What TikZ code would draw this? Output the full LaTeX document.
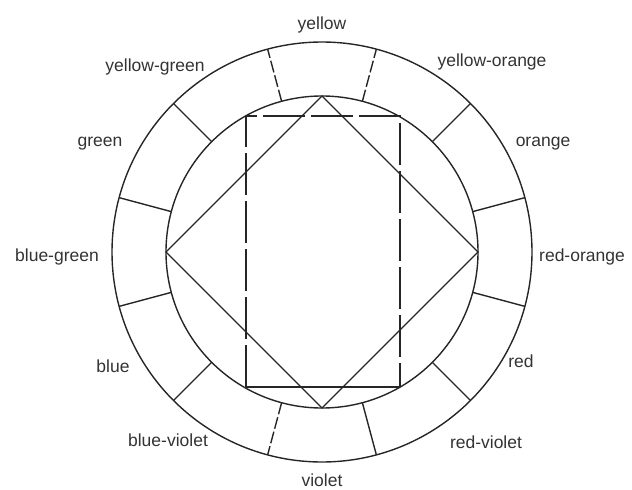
\documentclass[tikz,border=0pt]{standalone}
\usepackage{fontspec}
\setmainfont{Liberation Sans}
\begin{document}
\begin{tikzpicture}[x=1pt,y=-1pt,line width=1.4pt,
  lbl/.style={font=\fontsize{17.5}{19}\selectfont,text=black!80,inner sep=0pt},
  ring/.style={draw=black!85},
  divider/.style={draw=black!85},
  dashdiv/.style={draw=black!85,dash pattern=on 12pt off 3pt},
  rectdash/.style={draw=black!85,dash pattern=on 42pt off 6pt},
  diamondline/.style={draw=black!85}]
\useasboundingbox (0,0) rectangle (632,490);
\coordinate (c) at (322,252);
% rings
\draw[ring] (c) circle[radius=210];
\draw[ring] (c) circle[radius=156];
% radial dividers
\foreach \a in {15,45,135,165,195,225,285,315,345}{
  \coordinate (in\a) at ({322+156*cos(\a)},{252-156*sin(\a)});
  \coordinate (out\a) at ({322+210*cos(\a)},{252-210*sin(\a)});
  \draw[divider] (in\a) -- (out\a);
}
\foreach \a in {75,105,255}{
  \coordinate (in\a) at ({322+156*cos(\a)},{252-156*sin(\a)});
  \coordinate (out\a) at ({322+210*cos(\a)},{252-210*sin(\a)});
  \draw[dashdiv] (in\a) -- (out\a);
}
% diamond
\coordinate (dt) at (322,96);
\coordinate (dr) at (478,252);
\coordinate (db) at (322,408);
\coordinate (dl) at (166,252);
\draw[diamondline,line join=miter] (dt) -- (dr) -- (db) -- (dl) -- cycle;
% rectangle
\coordinate (r1) at (246,116);
\coordinate (r2) at (400,116);
\coordinate (r3) at (400,387);
\coordinate (r4) at (246,387);
\draw[rectdash] (r4) -- (r1) -- (r2) -- (r3);
\draw[diamondline] (r3) -- (r4);
% labels
\node[lbl] (yellow) at (322,25) {yellow};
\node[lbl] (yelloworange) at (492,62) {yellow-orange};
\node[lbl] (orange) at (543,144) {orange};
\node[lbl] (redorange) at (582,257) {red-orange};
\node[lbl] (red) at (521,361) {red};
\node[lbl] (redviolet) at (486,442) {red-violet};
\node[lbl] (violet) at (322,480) {violet};
\node[lbl] (blueviolet) at (168,440) {blue-violet};
\node[lbl] (blue) at (113,366) {blue};
\node[lbl] (bluegreen) at (57,257) {blue-green};
\node[lbl] (green) at (100,144) {green};
\node[lbl] (yellowgreen) at (155,67) {yellow-green};
\end{tikzpicture}
\end{document}
